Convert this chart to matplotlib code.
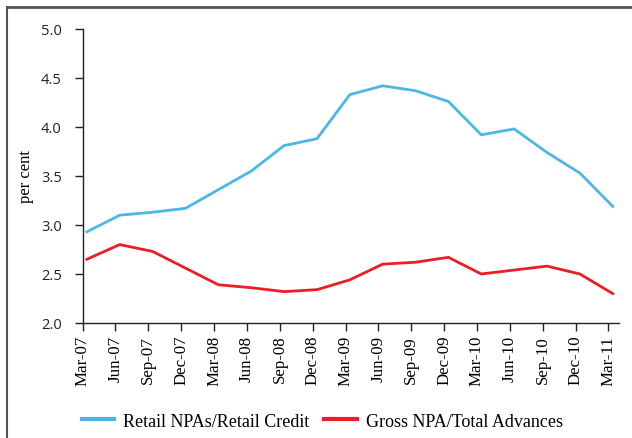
import matplotlib
matplotlib.use("Agg")
import matplotlib.pyplot as plt
from matplotlib.lines import Line2D
import numpy as np

# Datos
quarters = ["Mar-07", "Jun-07", "Sep-07", "Dec-07", "Mar-08", "Jun-08", "Sep-08",
            "Dec-08", "Mar-09", "Jun-09", "Sep-09", "Dec-09", "Mar-10", "Jun-10",
            "Sep-10", "Dec-10", "Mar-11"]
retail_npa = [2.93, 3.10, 3.13, 3.17, 3.36, 3.55, 3.81, 3.88, 4.33, 4.42, 4.37,
              4.26, 3.92, 3.98, 3.74, 3.53, 3.19]
gross_npa = [2.65, 2.80, 2.73, 2.56, 2.39, 2.36, 2.32, 2.34, 2.44, 2.60, 2.62,
             2.67, 2.50, 2.54, 2.58, 2.50, 2.30]

serif = "Liberation Serif"
sans = "Open Sans"

fig = plt.figure(figsize=(6.32, 4.39), dpi=100)
ax = fig.add_axes([0.1307, 0.262, 0.8487, 0.6697])

x = np.arange(len(quarters))
ax.plot(x, retail_npa, color="#4DB6E8", lw=2.0, label="Retail NPAs/Retail Credit",
        solid_joinstyle="miter")
ax.plot(x, gross_npa, color="#EE1C25", lw=2.0, label="Gross NPA/Total Advances",
        solid_joinstyle="miter")

# las marcas del eje x estan un poco a la izquierda de los puntos
ax.set_xticks(x - 0.13)
ax.set_xticklabels(quarters, rotation=90, family=serif, fontsize=12.2)
ax.set_xlim(-0.13, 16.19)

ax.set_ylim(2.0, 5.0)
ax.set_yticks(np.arange(2.0, 5.01, 0.5))
ax.set_yticklabels([f"{v:.1f}" for v in np.arange(2.0, 5.01, 0.5)],
                   family=sans, fontsize=10.5, color="#222222")
ax.set_ylabel("per cent", family=serif, fontsize=12, labelpad=5)

for s in ["top", "right"]:
    ax.spines[s].set_visible(False)
for s in ["left", "bottom"]:
    ax.spines[s].set_color("#222222")
    ax.spines[s].set_linewidth(1.0)
ax.tick_params(axis="y", length=6, width=1.0, pad=9, color="#222222")
ax.tick_params(axis="x", length=5.5, width=1.0, pad=3, color="#222222")

leg = fig.legend(loc="center", bbox_to_anchor=(0.51, 0.038), ncol=2, frameon=False,
                 prop={"family": serif, "size": 13}, handlelength=1.8,
                 columnspacing=0.8, handletextpad=0.5)
for h in leg.get_lines():
    h.set_linewidth(3.0)

# marco de la figura
fig.add_artist(Line2D([7 / 632, 7 / 632], [0, 1 - 8 / 439], color="#555555", lw=1.5,
                      transform=fig.transFigure))
fig.add_artist(Line2D([7 / 632, 1], [1 - 8 / 439, 1 - 8 / 439], color="#555555", lw=2.0,
                      transform=fig.transFigure))

fig.savefig("out.png", dpi=100)
